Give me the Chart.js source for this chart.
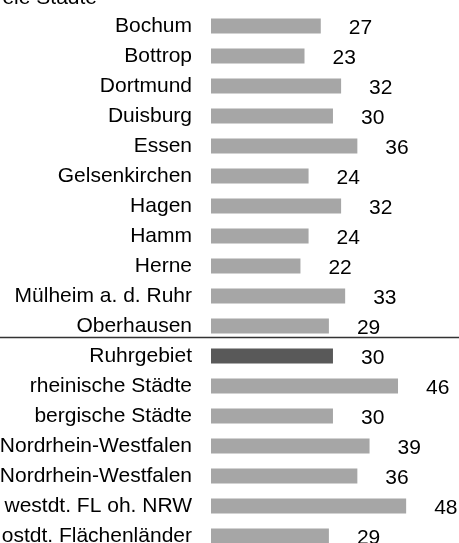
<!DOCTYPE html>
<html>
<head>
<meta charset="utf-8">
<script src="https://cdn.jsdelivr.net/npm/chart.js@4"></script>
<style>
  html, body { margin: 0; padding: 0; background: #ffffff; }
  #wrap { position: relative; width: 459px; height: 543px; overflow: hidden; background: #ffffff; }
  #c { position: absolute; left: 0; top: 0; }
</style>
</head>
<body>
<div id="wrap"><canvas id="c" width="459" height="560"></canvas></div>
<script>
const groupTitle = "kreisfreie Städte";
const categories = [
  "Bochum", "Bottrop", "Dortmund", "Duisburg", "Essen", "Gelsenkirchen",
  "Hagen", "Hamm", "Herne", "Mülheim a. d. Ruhr", "Oberhausen",
  "Ruhrgebiet", "rheinische Städte", "bergische Städte",
  "Nordrhein-Westfalen", "Nordrhein-Westfalen",
  "westdt. FL oh. NRW", "ostdt. Flächenländer"
];
const values = [27, 23, 32, 30, 36, 24, 32, 24, 22, 33, 29, 30, 46, 30, 39, 36, 48, 29];
const highlighted = ["Ruhrgebiet"];
const separatorAfterIndex = 10;

const FONT = "Liberation Sans, Arial, Helvetica, sans-serif";
const barColors = categories.map(c => highlighted.includes(c) ? "#595959" : "#a6a6a6");

const extras = {
  id: "extras",
  afterDatasetsDraw(chart) {
    const ctx = chart.ctx;
    const meta = chart.getDatasetMeta(0);
    ctx.save();
    ctx.font = "21px " + FONT;
    ctx.fillStyle = "#000000";
    ctx.textAlign = "left";
    ctx.textBaseline = "alphabetic";
    meta.data.forEach((bar, i) => {
      ctx.fillText(String(values[i]), bar.x + 28, bar.y + 8);
    });
    const ys = chart.scales.y;
    const yA = ys.getPixelForValue(separatorAfterIndex);
    const yB = ys.getPixelForValue(separatorAfterIndex + 1);
    const ly = Math.round(yA + (yB - yA) * 0.37) + 0.5;
    ctx.strokeStyle = "#333333";
    ctx.lineWidth = 1.5;
    ctx.beginPath();
    ctx.moveTo(0, ly);
    ctx.lineTo(chart.width, ly);
    ctx.stroke();
    ctx.textAlign = "right";
    ctx.fillText(groupTitle, 97, 3.5);
    ctx.restore();
  }
};

new Chart(document.getElementById("c"), {
  type: "bar",
  data: {
    labels: categories,
    datasets: [{
      data: values,
      backgroundColor: barColors,
      borderWidth: 0,
      barPercentage: 0.5,
      categoryPercentage: 1.0
    }]
  },
  options: {
    indexAxis: "y",
    responsive: false,
    animation: false,
    devicePixelRatio: 1,
    layout: { padding: { top: 11, bottom: 9, left: 0, right: 0 } },
    plugins: {
      legend: { display: false },
      tooltip: { enabled: false },
      title: { display: false }
    },
    scales: {
      x: {
        display: false,
        min: 0,
        max: 61
      },
      y: {
        grid: { display: false, drawTicks: false, drawOnChartArea: false },
        border: { display: false },
        ticks: {
          color: "#000000",
          font: { family: FONT, size: 21 },
          padding: 19,
          autoSkip: false
        },
        afterFit(scale) {
          scale.width = 211;
          scale.paddingTop = 0;
          scale.paddingBottom = 0;
        }
      }
    }
  },
  plugins: [extras]
});
</script>
</body>
</html>
